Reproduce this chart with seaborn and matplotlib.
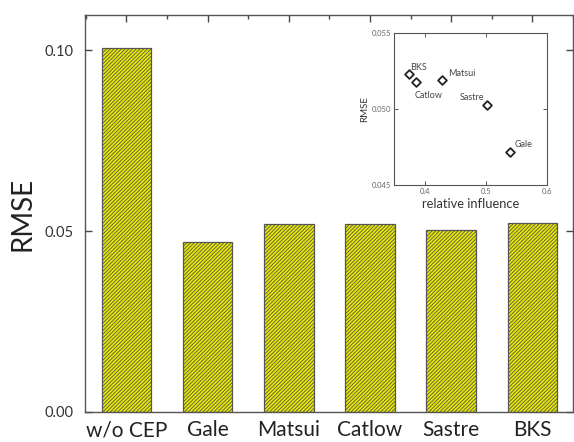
import numpy as np
import pandas as pd
import matplotlib
matplotlib.use("Agg")
import matplotlib.pyplot as plt
import seaborn as sns

# main bar chart data
models = ["w/o CEP", "Gale", "Matsui", "Catlow", "Sastre", "BKS"]
rmse = [0.1006, 0.0469, 0.0519, 0.0519, 0.0503, 0.0521]

# inset data
inset_names = ["BKS", "Catlow", "Matsui", "Sastre", "Gale"]
inset_influence = [0.3746, 0.386, 0.428, 0.5025, 0.540]
inset_rmse = [0.0523, 0.0518, 0.0519, 0.0503, 0.0472]

sns.set_style("ticks")
plt.rcParams["font.family"] = ["Lato", "DejaVu Sans"]
plt.rcParams["hatch.color"] = "#7a7a00"
plt.rcParams["hatch.linewidth"] = 0.6

df = pd.DataFrame({"model": models, "rmse": rmse})

fig = plt.figure(figsize=(5.74, 4.42), dpi=100)
ax = fig.add_axes([0.1481, 0.0679, 0.8502, 0.8981])

sns.barplot(
    data=df,
    x="model",
    y="rmse",
    color="#e8e800",
    saturation=1,
    width=0.61,
    edgecolor="#555555",
    linewidth=0.9,
    hatch="/" * 9,
    ax=ax
)

ax.set_xlim(-0.51, 5.43)
ax.set_ylim(0, 0.1097)
ax.set_yticks([0.0, 0.05, 0.10])
ax.set_yticklabels(["0.00", "0.05", "0.10"])
ax.set_xticks(np.arange(-0.5, 6.0, 1.0), minor=True)

ax.set_xlabel("")
ax.set_ylabel("RMSE", fontsize=20, color="#222222", labelpad=7)

for side in ["left", "right", "top", "bottom"]:
    ax.spines[side].set_visible(True)
    ax.spines[side].set_color("#555555")
    ax.spines[side].set_linewidth(1.0)

ax.tick_params(axis="both", which="major", direction="in", length=5,
               width=1.0, color="#444444", top=True, right=True)
ax.tick_params(axis="x", which="major", labelsize=15, labelcolor="#222222", pad=6)
ax.tick_params(axis="y", which="major", labelsize=10.5, labelcolor="#333333", pad=8)
ax.tick_params(axis="x", which="minor", direction="in", length=3, width=1.0,
               color="#444444", bottom=False, top=True)

# inset
axi = fig.add_axes([0.6864, 0.5814, 0.2660, 0.3433])
sns.scatterplot(
    x=inset_influence,
    y=inset_rmse,
    marker="D",
    s=20,
    facecolor="white",
    edgecolor="#222222",
    linewidth=1.3,
    ax=axi
)

offsets = {
    "BKS": (1, 5, "left"),
    "Catlow": (-1, -10, "left"),
    "Matsui": (5, 5, "left"),
    "Sastre": (-2, 5, "right"),
    "Gale": (3, 5, "left"),
}
for name, xv, yv in zip(inset_names, inset_influence, inset_rmse):
    dx, dy, ha = offsets[name]
    axi.annotate(name, (xv, yv), xytext=(dx, dy), textcoords="offset points",
                 fontsize=6.5, color="#444444", ha=ha, va="center")

axi.set_xlim(0.35, 0.6)
axi.set_ylim(0.045, 0.055)
axi.set_xticks([0.4, 0.5, 0.6])
axi.set_xticklabels(["0.4", "0.5", "0.6"])
axi.set_yticks([0.045, 0.050, 0.055])
axi.set_yticklabels(["0.045", "0.050", "0.055"])
axi.set_xlabel("relative influence", fontsize=9.3, color="#333333", labelpad=2)
axi.set_ylabel("RMSE", fontsize=7, color="#333333", labelpad=2)

for side in ["left", "right", "top", "bottom"]:
    axi.spines[side].set_visible(True)
    axi.spines[side].set_color("#555555")
    axi.spines[side].set_linewidth(0.8)

axi.tick_params(axis="both", direction="in", length=3, width=0.7,
                color="#555555", top=True, right=True, labelsize=5.5,
                labelcolor="#666666", pad=2)

fig.savefig("out.png", dpi=100)
